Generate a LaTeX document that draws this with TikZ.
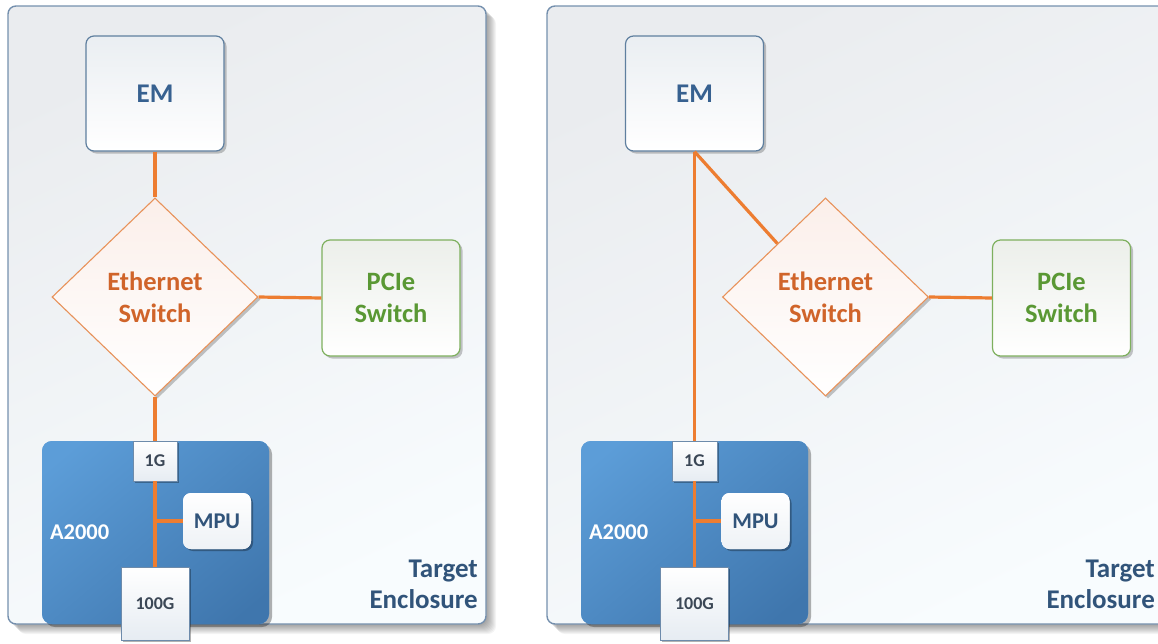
\documentclass[tikz,border=0pt]{standalone}
\usepackage{fontspec}
\setmainfont{Carlito}
\usetikzlibrary{shapes.geometric,shadows}
\definecolor{panelborder}{HTML}{7590AE}
\definecolor{paneltop}{HTML}{EAECEF}
\definecolor{panelbot}{HTML}{F8FCFE}
\definecolor{orangeline}{HTML}{ED7D31}
\definecolor{emtext}{HTML}{376190}
\definecolor{emborder}{HTML}{5F7F9F}
\definecolor{emtop}{HTML}{EAEEF2}
\definecolor{ethborder}{HTML}{E8925A}
\definecolor{ethtext}{HTML}{D0642A}
\definecolor{ethtop}{HTML}{FBEFEA}
\definecolor{pcieborder}{HTML}{7EB05E}
\definecolor{pcietext}{HTML}{5A9834}
\definecolor{pcietop}{HTML}{ECEFEA}
\definecolor{bluetop}{HTML}{5C9DD8}
\definecolor{bluebot}{HTML}{3F76AD}
\definecolor{slate}{HTML}{31547A}
\definecolor{smalltext}{HTML}{3B4756}
\definecolor{smallborder}{HTML}{6D8BAB}
\definecolor{smallbot}{HTML}{E6ECF2}
\definecolor{mpubot}{HTML}{EEF2F6}

\tikzset{
  softshadow/.style={drop shadow={shadow xshift=2.5pt, shadow yshift=-2.5pt, opacity=0.22, fill=black}},
  shadefill/.style 2 args={fill=white, path picture={\shade[top color=#1, bottom color=#2] (path picture bounding box.north west) rectangle (path picture bounding box.south east);}},
  embox/.style={draw=emborder, line width=1.2pt, rounded corners=8pt, shadefill={emtop}{white},
    minimum width=138pt, minimum height=115pt, inner sep=0pt, softshadow,
    font=\bfseries\fontsize{27}{32}\selectfont, text=emtext},
  ethbox/.style={diamond, draw=ethborder, line width=1.1pt, shadefill={ethtop}{white},
    minimum width=206pt, minimum height=198pt, inner sep=0pt, softshadow, align=center,
    font=\bfseries\fontsize{26.5}{32}\selectfont, text=ethtext},
  pciebox/.style={draw=pcieborder, line width=1.2pt, rounded corners=8pt, shadefill={pcietop}{white},
    minimum width=138pt, minimum height=116pt, inner sep=0pt, softshadow, align=center,
    font=\bfseries\fontsize{26.5}{32}\selectfont, text=pcietext},
  a2kbox/.style={rounded corners=10pt, minimum width=227pt, minimum height=183pt, inner sep=0pt,
    drop shadow={shadow xshift=3pt, shadow yshift=-3pt, opacity=0.3, fill=black},
    fill=bluetop, path picture={\shade[top color=bluetop, bottom color=bluebot, shading angle=40] ([xshift=-40pt]path picture bounding box.north west) rectangle ([xshift=40pt]path picture bounding box.south east);}},
  a2klabel/.style={anchor=west, inner sep=2pt, text=white, font=\bfseries\fontsize{22.5}{26}\selectfont},
  portbox/.style={draw=smallborder, line width=0.8pt, shadefill={white}{smallbot}, inner sep=0pt,
    drop shadow={shadow xshift=1.5pt, shadow yshift=-1.5pt, opacity=0.3, fill=black},
    text=smalltext, font=\bfseries\fontsize{18}{20}\selectfont},
  mpubox/.style={rounded corners=8pt, shadefill={white}{mpubot}, inner sep=0pt,
    minimum width=68pt, minimum height=56pt,
    drop shadow={shadow xshift=2pt, shadow yshift=-2pt, opacity=0.3, fill=black},
    text=slate, font=\bfseries\fontsize{22.5}{26}\selectfont},
  enclabel/.style={anchor=east, align=right, inner sep=2pt, text=slate, font=\bfseries\fontsize{27}{31}\selectfont},
  link/.style={draw=orangeline, line width=3.2pt},
}

\begin{document}
\begin{tikzpicture}[x=1pt, y=-1pt]
\useasboundingbox (0,0) rectangle (1158,643);
\clip (0,0) rectangle (1158,643);

% panel shadows
\foreach \k in {1,...,10} {
  \fill[black, opacity=0.045, rounded corners=8pt] (8+\k,6+\k) rectangle (486+\k,624+\k);
  \fill[black, opacity=0.045, rounded corners=8pt] (547+\k,6+\k) rectangle (1185+\k,624+\k);
}
% panels
\shade[rounded corners=8pt, top color=paneltop, bottom color=panelbot, shading angle=25] (8,6) rectangle (486,624);
\draw[panelborder, line width=1.4pt, rounded corners=8pt] (8,6) rectangle (486,624);
\shade[rounded corners=8pt, top color=paneltop, bottom color=panelbot, shading angle=25] (547,6) rectangle (1185,624);
\draw[panelborder, line width=1.4pt, rounded corners=8pt] (547,6) rectangle (1185,624);

% ---------- left panel ----------
\node[embox] (emL) at (155,93.5) {EM};
\node[ethbox] (ethL) at (155,297) {Ethernet\\Switch};
\node[pciebox] (pcieL) at (391,298) {PCIe\\Switch};
\node[a2kbox] (a2kL) at (155.5,532.5) {};
\node[a2klabel] (a2kLlbl) at ([xshift=6pt]a2kL.west) {A2000};
\node[portbox, minimum width=44pt, minimum height=40pt] (g1L) at (155,461) {1G};
\node[mpubox] (mpuL) at (217,521) {MPU};
\node[portbox, minimum width=68pt, minimum height=73pt] (g100L) at (155,603.5) {100G};
\node[enclabel] (encL) at (480,584) {Target\\Enclosure};

\draw[link] (emL.south) -- (ethL.north);
\draw[link] (ethL.east) -- (pcieL.west);
\draw[link] (ethL.south) -- (g1L.north);
\draw[link] (g1L.south) -- (g100L.north);
\draw[link] (g1L.south |- mpuL.west) -- (mpuL.west);

% ---------- right panel ----------
\node[embox] (emR) at (694.5,93.5) {EM};
\node[ethbox] (ethR) at (825.5,297) {Ethernet\\Switch};
\node[pciebox] (pcieR) at (1061.5,298) {PCIe\\Switch};
\node[a2kbox] (a2kR) at (694.5,532.5) {};
\node[a2klabel] (a2kRlbl) at ([xshift=6pt]a2kR.west) {A2000};
\node[portbox, minimum width=45pt, minimum height=40pt] (g1R) at (694.5,461) {1G};
\node[mpubox] (mpuR) at (755.5,521) {MPU};
\node[portbox, minimum width=68pt, minimum height=73pt] (g100R) at (694.5,603.5) {100G};
\node[enclabel] (encR) at (1157,584) {Target\\Enclosure};

\draw[link] (emR.south) -- (g1R.north);
\draw[link] (emR.south) -- (ethR);
\draw[link] (ethR.east) -- (pcieR.west);
\draw[link] (g1R.south) -- (g100R.north);
\draw[link] (g1R.south |- mpuR.west) -- (mpuR.west);
\end{tikzpicture}
\end{document}
